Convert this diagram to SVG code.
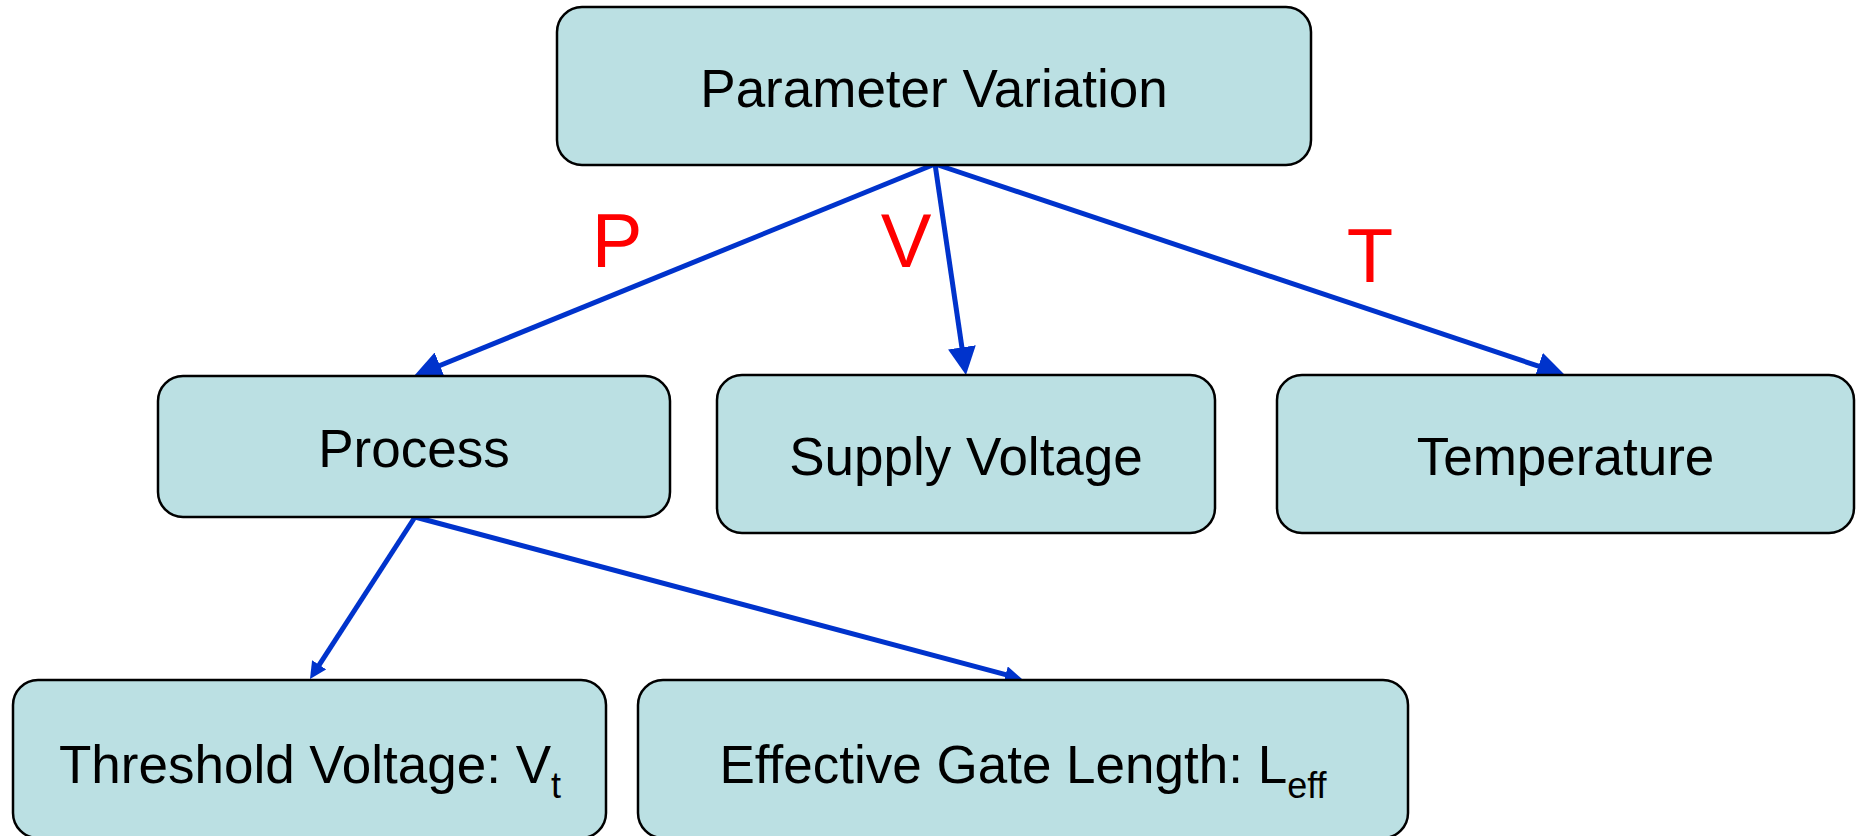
<svg xmlns="http://www.w3.org/2000/svg" width="1860" height="836" viewBox="0 0 1860 836">
<style>
.box{fill:#BBE0E3;stroke:#000;stroke-width:2.5}
.t{font-family:"Liberation Sans",Arial,sans-serif;font-size:53px;fill:#000;text-anchor:middle}
.sub{font-size:36px}
.lbl{font-family:"Liberation Sans",Arial,sans-serif;font-size:76px;fill:#FF0000;text-anchor:middle}
.c{stroke:#0033CC;stroke-width:5;fill:none}
</style>
<defs>
<marker id="ah" markerUnits="userSpaceOnUse" markerWidth="28" markerHeight="28" viewBox="0 0 28 28" refX="4" refY="14" orient="auto"><path d="M0,0 L28,14 L0,28 z" fill="#0033CC"/></marker>
<marker id="ahs" markerUnits="userSpaceOnUse" markerWidth="17" markerHeight="17" viewBox="0 0 17 17" refX="3" refY="8.5" orient="auto"><path d="M0,0 L17,8.5 L0,17 z" fill="#0033CC"/></marker>
</defs>
<rect width="1860" height="836" fill="#fff"/>
<g id="connectors">
<line class="c" x1="935" y1="164" x2="436.2" y2="367" marker-end="url(#ah)"/>
<line class="c" x1="935" y1="164" x2="962.5" y2="351.3" marker-end="url(#ah)"/>
<line class="c" x1="935" y1="164" x2="1542.2" y2="367.4" marker-end="url(#ah)"/>
<line class="c" x1="415" y1="517" x2="317.6" y2="667.3" marker-end="url(#ahs)"/>
<line class="c" x1="415" y1="517" x2="1008.5" y2="675.4" marker-end="url(#ahs)"/>
</g>
<g id="labels">
<text class="lbl" x="617" y="267">P</text>
<text class="lbl" x="906" y="267">V</text>
<text class="lbl" x="1370" y="282">T</text>
</g>
<g id="n-param">
<rect class="box" x="557" y="7" width="754" height="158" rx="25"/>
<text class="t" x="934" y="107">Parameter Variation</text>
</g>
<g id="n-process">
<rect class="box" x="158" y="376" width="512" height="141" rx="25"/>
<text class="t" x="414" y="467">Process</text>
</g>
<g id="n-supply">
<rect class="box" x="717" y="375" width="498" height="158" rx="25"/>
<text class="t" x="966" y="475">Supply Voltage</text>
</g>
<g id="n-temp">
<rect class="box" x="1277" y="375" width="577" height="158" rx="25"/>
<text class="t" x="1565.5" y="475">Temperature</text>
</g>
<g id="n-vt">
<rect class="box" x="13" y="680" width="593" height="158" rx="25"/>
<text class="t" x="310" y="783">Threshold Voltage: V<tspan class="sub" dy="15">t</tspan></text>
</g>
<g id="n-leff">
<rect class="box" x="638" y="680" width="770" height="158" rx="25"/>
<text class="t" x="1023" y="783">Effective Gate Length: L<tspan class="sub" dy="15">eff</tspan></text>
</g>
</svg>
